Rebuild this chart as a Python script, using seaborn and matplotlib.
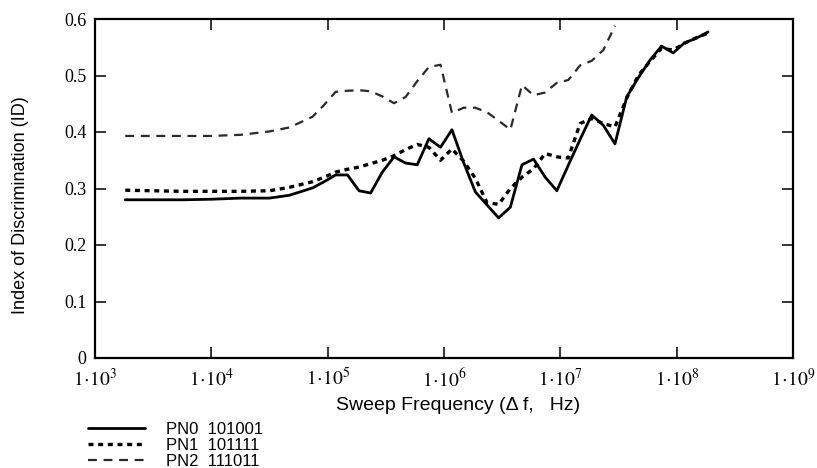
import numpy as np
import pandas as pd
import matplotlib
matplotlib.use("Agg")
import matplotlib.pyplot as plt
import seaborn as sns

# ---- data ----
freq_hz = [1.82e3, 3.16e3, 5.62e3, 1.00e4, 1.78e4, 3.16e4, 4.68e4, 7.41e4, 9.33e4,
           1.17e5, 1.48e5, 1.86e5, 2.34e5, 2.95e5, 3.72e5, 4.68e5, 5.89e5, 7.41e5, 9.33e5,
           1.17e6, 1.48e6, 1.86e6, 2.34e6, 2.95e6, 3.72e6, 4.68e6, 5.89e6, 7.41e6, 9.33e6,
           1.17e7, 1.48e7, 1.86e7, 2.34e7, 2.95e7, 3.72e7, 4.68e7, 5.89e7, 7.41e7, 9.33e7,
           1.17e8, 1.48e8, 1.86e8]

pn0 = [0.280, 0.280, 0.280, 0.281, 0.283, 0.283, 0.288, 0.301, 0.312,
       0.324, 0.324, 0.296, 0.292, 0.329, 0.356, 0.345, 0.342, 0.388, 0.373,
       0.404, 0.345, 0.294, 0.271, 0.248, 0.267, 0.342, 0.352, 0.320, 0.296,
       0.341, 0.387, 0.430, 0.412, 0.379, 0.462, 0.496, 0.527, 0.552, 0.540,
       0.558, 0.566, 0.577]

pn1 = [0.297, 0.296, 0.295, 0.295, 0.295, 0.296, 0.302, 0.312, 0.320,
       0.329, 0.334, 0.338, 0.344, 0.350, 0.358, 0.369, 0.378, 0.373, 0.350,
       0.370, 0.348, 0.318, 0.275, 0.272, 0.300, 0.320, 0.335, 0.362, 0.356,
       0.354, 0.415, 0.424, 0.415, 0.409, 0.460, 0.500, 0.525, 0.548, 0.545,
       0.557, 0.567, 0.575]

nan = np.nan
pn2 = [0.393, 0.393, 0.393, 0.393, 0.395, 0.401, 0.408, 0.427, 0.448,
       0.471, 0.473, 0.474, 0.472, 0.463, 0.451, 0.462, 0.490, 0.515, 0.519,
       0.434, 0.443, 0.443, 0.435, 0.420, 0.404, 0.483, 0.465, 0.470, 0.487,
       0.492, 0.518, 0.526, 0.545, 0.588, nan, nan, nan, nan, nan,
       nan, nan, nan]

labels = ["PN0  101001", "PN1  101111", "PN2  111011"]
x_ticks = [1e3, 1e4, 1e5, 1e6, 1e7, 1e8, 1e9]
x_ticklabels = [r"$1\!\cdot\!10^{%d}$" % e for e in range(3, 10)]
y_ticks = [0, 0.1, 0.2, 0.3, 0.4, 0.5, 0.6]
y_ticklabels = ["0", "0.1", "0.2", "0.3", "0.4", "0.5", "0.6"]

# ---- style ----
sns.set_style("ticks")
plt.rcParams["font.family"] = ["Liberation Sans", "DejaVu Sans"]
plt.rcParams["mathtext.fontset"] = "stix"
plt.rcParams["text.color"] = "black"
plt.rcParams["axes.labelcolor"] = "black"

fig = plt.figure(figsize=(8.17, 4.68), dpi=100)
ax = fig.add_axes([95 / 817, 1 - 358 / 468, (793 - 95) / 817, (358 - 19) / 468])

df = pd.DataFrame({"freq": freq_hz, "PN0": pn0, "PN1": pn1, "PN2": pn2})

sns.lineplot(data=df, x="freq", y="PN0", ax=ax, color="black", linewidth=2.0,
             linestyle="-", label=labels[0])
sns.lineplot(data=df, x="freq", y="PN1", ax=ax, color="black", linewidth=2.4,
             linestyle=(0, (1.5, 1.4)), label=labels[1])
sns.lineplot(data=df.dropna(), x="freq", y="PN2", ax=ax, color="#2a2a2a", linewidth=1.6,
             linestyle=(0, (4.0, 3.0)), label=labels[2])

ax.set_xscale("log")
ax.set_xlim(1e3, 1e9)
ax.set_ylim(0, 0.6)
ax.set_xticks(x_ticks)
ax.set_xticklabels(x_ticklabels, fontsize=14)
ax.set_yticks(y_ticks)
ax.set_yticklabels(y_ticklabels, fontfamily="Liberation Serif", fontsize=13)
ax.xaxis.set_minor_locator(matplotlib.ticker.NullLocator())
ax.tick_params(axis="both", which="major", direction="in", length=8, width=1.1,
               top=True, right=True, colors="black", pad=6)
ax.tick_params(axis="x", pad=7)
for s in ax.spines.values():
    s.set_linewidth(1.6)
    s.set_color("black")

ax.set_xlabel("Sweep Frequency (\u0394 f,   Hz)", fontsize=14, color="black")
ax.set_ylabel("Index of Discrimination (ID)", fontsize=13, color="black")
ax.xaxis.set_label_coords(0.52, -0.115)
ax.yaxis.set_label_coords(-0.095, 0.45)

handles, lbls = ax.get_legend_handles_labels()
ax.get_legend().remove()
fig.legend(handles, lbls, loc="upper left", bbox_to_anchor=(88 / 817, 1 - 422 / 468),
           frameon=False, fontsize=12, handlelength=3.4, handletextpad=1.3,
           labelspacing=0.05, borderpad=0, borderaxespad=0, labelcolor="black")

fig.savefig("out.png", dpi=100)
